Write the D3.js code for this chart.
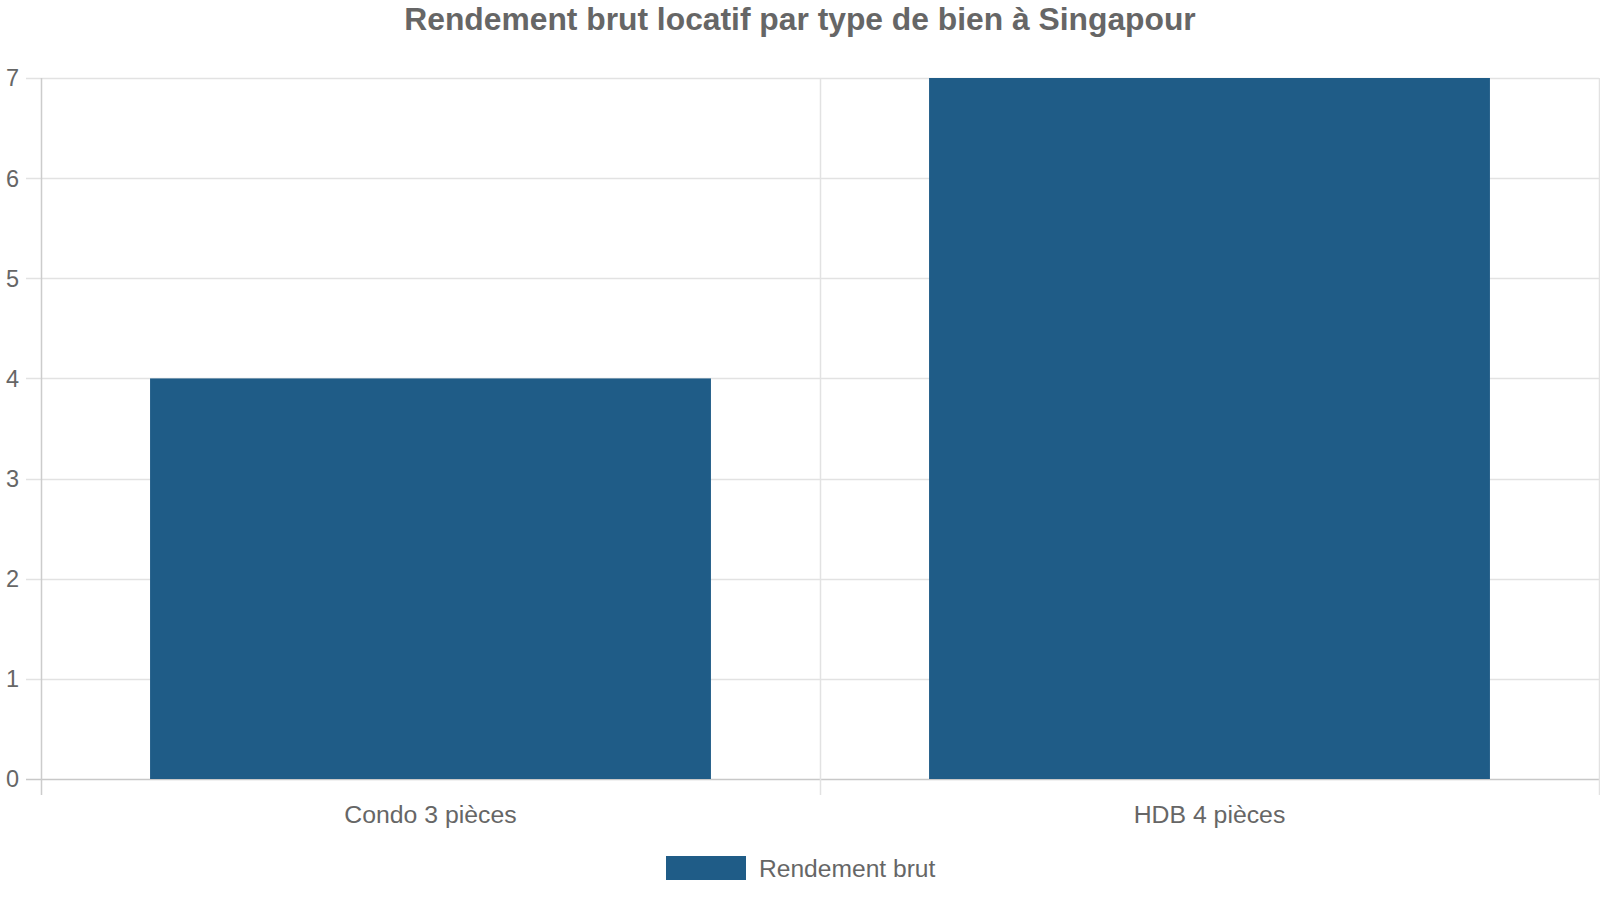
<!DOCTYPE html>
<html>
<head>
<meta charset="utf-8">
<script src="https://cdn.jsdelivr.net/npm/d3@7"></script>
<style>
  html, body { margin: 0; padding: 0; background: #fff; }
  svg { display: block; font-family: "Liberation Sans", Arial, sans-serif; }
</style>
</head>
<body>
<svg id="chart" width="1600" height="900"></svg>
<script>
const categories = ["Condo 3 pièces", "HDB 4 pièces"];
const rendement = [4, 7];
const seriesName = "Rendement brut";
const yTicks = [0, 1, 2, 3, 4, 5, 6, 7];
const title = "Rendement brut locatif par type de bien à Singapour";

const W = 1600, H = 900;
const plotLeft = 41, plotRight = 1599, plotTop = 78, plotBottom = 779;
const barColor = "#1f5c87";
const textColor = "#666";

const svg = d3.select("#chart");

const x = d3.scaleBand()
  .domain(categories)
  .range([plotLeft, plotRight])
  .padding(0);

const y = d3.scaleLinear()
  .domain([0, d3.max(yTicks)])
  .range([plotBottom, plotTop]);

// horizontal grid
svg.append("g")
  .selectAll("line")
  .data(yTicks)
  .enter().append("line")
    .attr("x1", plotLeft - 15)
    .attr("x2", plotRight)
    .attr("y1", d => Math.round(y(d)) + 0.5)
    .attr("y2", d => Math.round(y(d)) + 0.5)
    .attr("stroke", d => d === 0 ? "#c8c8c8" : "#e2e2e2")
    .attr("stroke-width", 1.5);

// vertical grid (category boundaries)
const xLines = categories.map(c => x(c)).concat([plotRight]);
svg.append("g")
  .selectAll("line")
  .data(xLines)
  .enter().append("line")
    .attr("x1", d => Math.round(d) + 0.5)
    .attr("x2", d => Math.round(d) + 0.5)
    .attr("y1", plotTop)
    .attr("y2", plotBottom + 16)
    .attr("stroke", (d, i) => i === 0 ? "#cccccc" : "#e2e2e2")
    .attr("stroke-width", 1.5);

// bars
const bw = x.bandwidth();
svg.append("g")
  .selectAll("rect")
  .data(rendement)
  .enter().append("rect")
    .attr("x", (d, i) => x(categories[i]) + bw * 0.14)
    .attr("width", bw * 0.72)
    .attr("y", d => y(d))
    .attr("height", d => y(0) - y(d))
    .attr("fill", barColor);

// y tick labels
svg.append("g")
  .selectAll("text")
  .data(yTicks)
  .enter().append("text")
    .attr("x", 19)
    .attr("y", d => y(d))
    .attr("dy", "0.36em")
    .attr("text-anchor", "end")
    .attr("font-size", 23.5)
    .attr("fill", textColor)
    .text(d => d);

// x tick labels
svg.append("g")
  .selectAll("text")
  .data(categories)
  .enter().append("text")
    .attr("x", d => x(d) + bw / 2)
    .attr("y", 823)
    .attr("text-anchor", "middle")
    .attr("font-size", 24.8)
    .attr("fill", textColor)
    .text(d => d);

// title
svg.append("text")
  .attr("x", W / 2)
  .attr("y", 30)
  .attr("text-anchor", "middle")
  .attr("font-size", 31.8)
  .attr("font-weight", "bold")
  .attr("fill", textColor)
  .text(title);

// legend
const legend = svg.append("g");
legend.append("rect")
  .attr("x", 666)
  .attr("y", 856)
  .attr("width", 80)
  .attr("height", 24)
  .attr("fill", barColor);
legend.append("text")
  .attr("x", 759)
  .attr("y", 868)
  .attr("dy", "0.36em")
  .attr("font-size", 24.6)
  .attr("fill", textColor)
  .text(seriesName);
</script>
</body>
</html>
